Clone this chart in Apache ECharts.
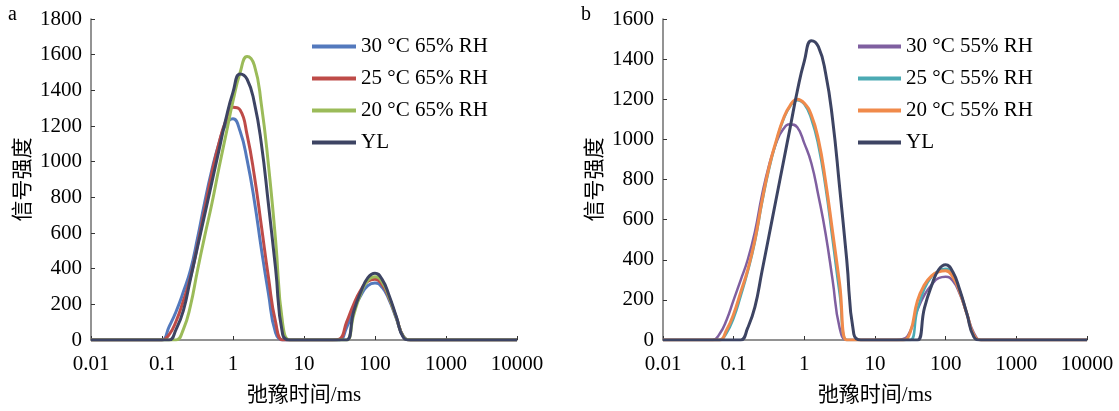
<!DOCTYPE html>
<html><head><meta charset="utf-8">
<script src="https://cdn.jsdelivr.net/npm/echarts@6/dist/echarts.min.js"></script>
<style>html,body{margin:0;padding:0;background:#fff}#c{width:1119px;height:411px}</style>
</head><body><div id="c"></div>
<script>
// relaxation time grid (ms)
const t2 = [0.01, 0.0398, 0.0501, 0.0631, 0.0794, 0.1, 0.126, 0.158, 0.2, 0.251, 0.316, 0.398, 0.501, 0.631, 0.794, 1, 1.26, 1.58, 2, 2.51, 3.16, 3.98, 5.01, 6.31, 7.94, 10, 15.8, 20, 25.1, 31.6, 39.8, 50.1, 63.1, 79.4, 100, 126, 158, 200, 251, 316, 398, 1000, 10000];
const xTickLabels = ['0.01', '0.1', '1', '10', '100', '1000', '10000'];

// panel a
const namesA = ['30 °C 65% RH', '25 °C 65% RH', '20 °C 65% RH', 'YL'];
const a30 = [0,0,0,0,0,0,75,160,270,390,570,770,950,1100,1210,1240,1170,1010,780,510,260,40,0,0,0,0,0,0,0,0,70,170,250,305,320,295,225,120,20,0,0,0,0];
const a25 = [0,0,0,0,0,0,30,105,220,350,530,730,930,1100,1230,1305,1290,1150,920,640,350,100,0,0,0,0,0,0,0,5,100,200,280,330,340,310,235,125,20,0,0,0,0];
const a20 = [0,0,0,0,0,0,0,0,60,190,390,580,760,960,1150,1340,1500,1590,1540,1320,980,560,90,0,0,0,0,0,0,0,0,140,260,335,355,325,240,125,20,0,0,0,0];
const yl  = [0,0,0,0,0,0,0,60,165,340,520,700,880,1060,1240,1390,1492,1462,1330,1100,760,400,30,0,0,0,0,0,0,0,0,160,270,350,375,340,250,130,15,0,0,0,0];

// panel b
const namesB = ['30 °C 55% RH', '25 °C 55% RH', '20 °C 55% RH', 'YL'];
const b30 = [0,0,0,30,100,200,300,400,540,720,870,980,1050,1075,1060,980,880,720,530,300,60,0,0,0,0,0,0,0,5,45,150,225,275,308,315,295,230,130,35,0,0,0,0];
const b25 = [0,0,0,0,35,110,220,340,490,680,850,985,1095,1165,1195,1175,1100,970,760,500,230,0,0,0,0,0,0,0,0,0,150,255,315,345,355,325,245,130,20,0,0,0,0];
const b20 = [0,0,0,0,50,130,240,350,500,690,860,990,1100,1170,1200,1180,1120,1000,790,540,280,0,0,0,0,0,0,0,0,40,195,275,320,340,345,315,240,130,25,0,0,0,0];

const SERIF = 'Liberation Serif, Noto Sans CJK SC';
const chart = echarts.init(document.getElementById('c'), null, {renderer: 'canvas'});

function mk(name, vals, color, width, idx) {
  return {
    type: 'line', name: name, xAxisIndex: idx, yAxisIndex: idx,
    data: t2.map((t, i) => [t, vals[i]]),
    smooth: 0.5, symbol: 'none', showSymbol: false,
    lineStyle: {color: color, width: width}, itemStyle: {color: color},
    emphasis: {disabled: true}
  };
}
function xAx(idx) {
  return {
    type: 'log', logBase: 10, gridIndex: idx, min: 0.01, max: 10000,
    axisLine: {lineStyle: {color: '#6f6f6f', width: 1.5}},
    axisTick: {inside: true, length: 4, lineStyle: {color: '#333'}},
    axisLabel: {margin: 14, color: '#000', fontFamily: SERIF, fontSize: 21, showMinLabel: true, showMaxLabel: true,
      formatter: v => xTickLabels[Math.round(Math.log10(v)) + 2]},
    splitLine: {show: false}, minorTick: {show: false},
    name: '弛豫时间/ms', nameLocation: 'middle', nameGap: 45,
    nameTextStyle: {color: '#000', fontFamily: SERIF, fontSize: 21}
  };
}
function yAx(idx, max) {
  return {
    type: 'value', gridIndex: idx, min: 0, max: max, interval: 200,
    axisLine: {show: true, lineStyle: {color: '#6f6f6f', width: 1.5}},
    axisTick: {show: true, inside: true, length: 4, lineStyle: {color: '#333'}},
    axisLabel: {margin: 9, color: '#000', fontFamily: SERIF, fontSize: 21, formatter: v => String(v)},
    splitLine: {show: false},
    name: '信号强度', nameLocation: 'middle', nameGap: 57,
    nameTextStyle: {color: '#000', fontFamily: SERIF, fontSize: 21}
  };
}
function lg(left, width, data) {
  return {
    orient: 'vertical', left: left, top: 31, icon: 'rect', itemWidth: width, itemHeight: 4, itemGap: 11,
    selectedMode: false, data: data,
    textStyle: {color: '#000', fontFamily: SERIF, fontSize: 21, lineHeight: 21}
  };
}

chart.setOption({
  animation: false,
  backgroundColor: '#fff',
  grid: [
    {left: 91, top: 19, width: 426, height: 321},
    {left: 663, top: 19, width: 424, height: 321}
  ],
  xAxis: [xAx(0), xAx(1)],
  yAxis: [yAx(0, 1800), yAx(1, 1600)],
  legend: [lg(307, 44, namesA), lg(853, 43, namesB)],
  graphic: [
    {type: 'text', left: 8, top: 5, style: {text: 'a', font: '20px Liberation Serif', fill: '#000'}},
    {type: 'text', left: 581, top: 5, style: {text: 'b', font: '20px Liberation Serif', fill: '#000'}}
  ],
  series: [
    mk(namesA[0], a30, '#5379bd', 3, 0),
    mk(namesA[1], a25, '#be4b48', 3, 0),
    mk(namesA[2], a20, '#9bbb59', 3, 0),
    mk(namesA[3], yl, '#3d4463', 3, 0),
    mk(namesB[0], b30, '#7f5fa0', 2.5, 1),
    mk(namesB[1], b25, '#4baab3', 2.5, 1),
    mk(namesB[2], b20, '#f08a4b', 3, 1),
    mk(namesB[3], yl, '#3d4463', 3, 1)
  ]
});
</script>
</body></html>
